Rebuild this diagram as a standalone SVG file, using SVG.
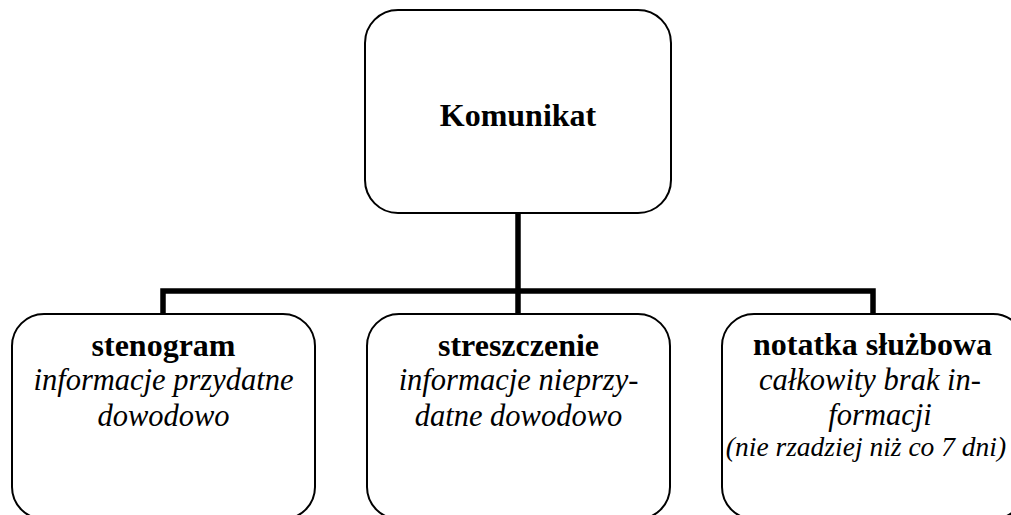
<svg xmlns="http://www.w3.org/2000/svg" width="1011" height="515" viewBox="0 0 1011 515">
<style>
.box{fill:#fff;stroke:#000;stroke-width:2}
.conn{fill:none;stroke:#000;stroke-width:5.5}
.b{font-family:"Liberation Serif","Times New Roman",serif;font-weight:bold;font-size:32px;text-anchor:middle;fill:#000}
.i{font-family:"Liberation Serif","Times New Roman",serif;font-style:italic;font-size:30.5px;text-anchor:middle;fill:#000}
.s{font-family:"Liberation Serif","Times New Roman",serif;font-style:italic;font-size:27.5px;text-anchor:middle;fill:#000}
</style>
<rect width="1011" height="515" fill="#fff"/>
<g id="connectors">
<path class="conn" d="M518 213 V315"/>
<path class="conn" d="M163 315 V291 H873 V315"/>
</g>
<g id="komunikat">
<rect class="box" x="365" y="10" width="306" height="203" rx="33" ry="33"/>
<text class="b" x="518" y="126">Komunikat</text>
</g>
<g id="stenogram">
<rect class="box" x="12" y="314" width="303" height="205" rx="32" ry="32"/>
<text class="b" x="163.5" y="356">stenogram</text>
<text class="i" x="163.5" y="390">informacje przydatne</text>
<text class="i" x="163.5" y="426">dowodowo</text>
</g>
<g id="streszczenie">
<rect class="box" x="367" y="314" width="303" height="205" rx="32" ry="32"/>
<text class="b" x="518.5" y="356">streszczenie</text>
<text class="i" x="518.5" y="390">informacje nieprzy-</text>
<text class="i" x="518.5" y="426">datne dowodowo</text>
</g>
<g id="notatka">
<rect class="box" x="722" y="314" width="303" height="205" rx="32" ry="32"/>
<text class="b" x="872.5" y="355">notatka służbowa</text>
<text class="i" x="870" y="390">całkowity brak in-</text>
<text class="i" x="880" y="425">formacji</text>
<text class="s" x="866" y="456">(nie rzadziej niż co 7 dni)</text>
</g>
</svg>
